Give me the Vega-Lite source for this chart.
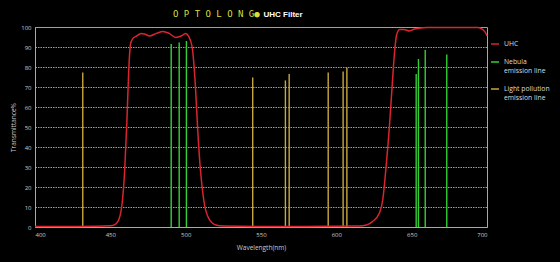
{
  "$schema": "https://vega.github.io/schema/vega-lite/v6.json",
  "width": 452,
  "height": 200,
  "autosize": {"type": "none"},
  "padding": {"left": 35, "top": 27, "right": 73, "bottom": 35},
  "background": "#000000",
  "title": {
    "text": "O P T O L O N G●",
    "anchor": "start",
    "frame": "group",
    "dx": 138,
    "dy": 18,
    "offset": 9,
    "color": "#d8de3c",
    "font": "DejaVu Sans Mono",
    "fontSize": 9,
    "fontWeight": "normal"
  },
  "datasets": {
    "curve": [
      {"type": "UHC", "wl": 400, "t": 0.3}, {"type": "UHC", "wl": 420, "t": 0.3}, {"type": "UHC", "wl": 440, "t": 0.4}, {"type": "UHC", "wl": 450, "t": 0.6},
      {"type": "UHC", "wl": 453, "t": 1.2}, {"type": "UHC", "wl": 456, "t": 4.5}, {"type": "UHC", "wl": 458, "t": 13}, {"type": "UHC", "wl": 459.5, "t": 28},
      {"type": "UHC", "wl": 461, "t": 53}, {"type": "UHC", "wl": 462.2, "t": 78}, {"type": "UHC", "wl": 463.4, "t": 91.5}, {"type": "UHC", "wl": 465, "t": 94.3},
      {"type": "UHC", "wl": 467, "t": 95.3}, {"type": "UHC", "wl": 470.5, "t": 96.8}, {"type": "UHC", "wl": 473, "t": 96.4}, {"type": "UHC", "wl": 476, "t": 95.5},
      {"type": "UHC", "wl": 480.5, "t": 96.8}, {"type": "UHC", "wl": 485, "t": 97.8}, {"type": "UHC", "wl": 489, "t": 96.8}, {"type": "UHC", "wl": 493.5, "t": 94.8},
      {"type": "UHC", "wl": 497, "t": 95.5}, {"type": "UHC", "wl": 500, "t": 96.8}, {"type": "UHC", "wl": 502, "t": 95.3}, {"type": "UHC", "wl": 504.3, "t": 90},
      {"type": "UHC", "wl": 506.5, "t": 70}, {"type": "UHC", "wl": 508, "t": 48.5}, {"type": "UHC", "wl": 509.8, "t": 28.5}, {"type": "UHC", "wl": 512, "t": 13.5},
      {"type": "UHC", "wl": 515.3, "t": 4.3}, {"type": "UHC", "wl": 520, "t": 1}, {"type": "UHC", "wl": 525, "t": 0.5}, {"type": "UHC", "wl": 550, "t": 0.3},
      {"type": "UHC", "wl": 580, "t": 0.3}, {"type": "UHC", "wl": 600, "t": 0.4}, {"type": "UHC", "wl": 615, "t": 0.5}, {"type": "UHC", "wl": 620, "t": 1},
      {"type": "UHC", "wl": 624, "t": 2.7}, {"type": "UHC", "wl": 628.6, "t": 7}, {"type": "UHC", "wl": 630.8, "t": 13.5}, {"type": "UHC", "wl": 633, "t": 30},
      {"type": "UHC", "wl": 635.2, "t": 50}, {"type": "UHC", "wl": 637, "t": 70}, {"type": "UHC", "wl": 638.6, "t": 87}, {"type": "UHC", "wl": 640, "t": 96},
      {"type": "UHC", "wl": 642, "t": 98.8}, {"type": "UHC", "wl": 645, "t": 98.8}, {"type": "UHC", "wl": 648.5, "t": 98}, {"type": "UHC", "wl": 652, "t": 99},
      {"type": "UHC", "wl": 660, "t": 99.8}, {"type": "UHC", "wl": 682, "t": 99.8}, {"type": "UHC", "wl": 694, "t": 99.8}, {"type": "UHC", "wl": 697, "t": 98.8},
      {"type": "UHC", "wl": 699.5, "t": 96.5}, {"type": "UHC", "wl": 700, "t": 95.5}
    ],
    "lines": [
      {"type": "Nebula emission line", "wl": 490.4, "t": 91.5},
      {"type": "Nebula emission line", "wl": 495.7, "t": 92.2},
      {"type": "Nebula emission line", "wl": 500.5, "t": 93},
      {"type": "Nebula emission line", "wl": 653, "t": 76.5},
      {"type": "Nebula emission line", "wl": 654.5, "t": 84},
      {"type": "Nebula emission line", "wl": 659, "t": 88.5},
      {"type": "Nebula emission line", "wl": 673.3, "t": 86.2},
      {"type": "Light pollution emission line", "wl": 431.7, "t": 77.3},
      {"type": "Light pollution emission line", "wl": 544.5, "t": 74.8},
      {"type": "Light pollution emission line", "wl": 566.2, "t": 73.3},
      {"type": "Light pollution emission line", "wl": 568.7, "t": 76.5},
      {"type": "Light pollution emission line", "wl": 594.6, "t": 77.3},
      {"type": "Light pollution emission line", "wl": 604.5, "t": 77.8},
      {"type": "Light pollution emission line", "wl": 607, "t": 79.8}
    ]
  },
  "encoding": {
    "y": {
      "field": "t", "type": "quantitative",
      "scale": {"domain": [0, 100], "nice": false},
      "axis": {"values": [0, 10, 20, 30, 40, 50, 60, 70, 80, 90, 100], "title": "Transmittance%", "grid": true, "titlePadding": 4, "labelOverlap": false}
    },
    "color": {
      "field": "type", "type": "nominal",
      "scale": {
        "domain": ["UHC", "Nebula emission line", "Light pollution emission line"],
        "range": ["#d8252e", "#35cf35", "#c9a640"]
      },
      "legend": {
        "orient": "none",
        "legendX": 455,
        "legendY": 12,
        "title": null,
        "symbolType": "stroke",
        "symbolSize": 64,
        "symbolStrokeWidth": 1.5,
        "labelColor": "#dddddd",
        "labelFontSize": 6.8,
        "labelFont": "Open Sans",
        "rowPadding": 9,
        "labelExpr": "datum.label == 'Nebula emission line' ? ['Nebula', 'emission line'] : datum.label == 'Light pollution emission line' ? ['Light pollution', 'emission line'] : datum.label"
      }
    }
  },
  "layer": [
    {
      "data": {"name": "lines"},
      "mark": {"type": "rule", "strokeWidth": 1.4},
      "encoding": {
        "x": {
          "field": "wl", "type": "quantitative",
          "scale": {"domain": [400, 700], "nice": false},
          "axis": {"values": [400, 450, 500, 550, 600, 650, 700], "title": "Wavelength(nm)", "grid": false, "titlePadding": 7}
        },
        "y2": {"datum": 0}
      }
    },
    {
      "data": {"name": "curve"},
      "mark": {"type": "line", "strokeWidth": 1.5, "interpolate": "monotone"},
      "encoding": {
        "x": {
          "field": "wl", "type": "quantitative",
          "axis": {
            "orient": "top", "labels": false, "domain": false, "ticks": false, "grid": false,
            "title": "UHC Filter", "titleColor": "#ffffff", "titleFont": "Liberation Sans",
            "titleFontWeight": "bold", "titleFontSize": 8, "titleAlign": "left",
            "titleBaseline": "middle", "titleX": 228, "titleY": -13
          }
        }
      }
    }
  ],
  "resolve": {"axis": {"x": "independent"}},
  "config": {
    "view": {"stroke": "#a8a8a8", "strokeWidth": 1},
    "axis": {
      "labelColor": "#cccccc",
      "labelFontSize": 6,
      "labelFont": "Open Sans",
      "titleColor": "#cccccc",
      "titleFontSize": 6.5,
      "titleFont": "Open Sans",
      "titleFontWeight": "normal",
      "domainColor": "#a8a8a8",
      "ticks": false,
      "labelPadding": 4,
      "gridColor": "#9a9a9a",
      "gridDash": [1.5, 1],
      "gridWidth": 1,
      "gridOpacity": 1
    }
  }
}
